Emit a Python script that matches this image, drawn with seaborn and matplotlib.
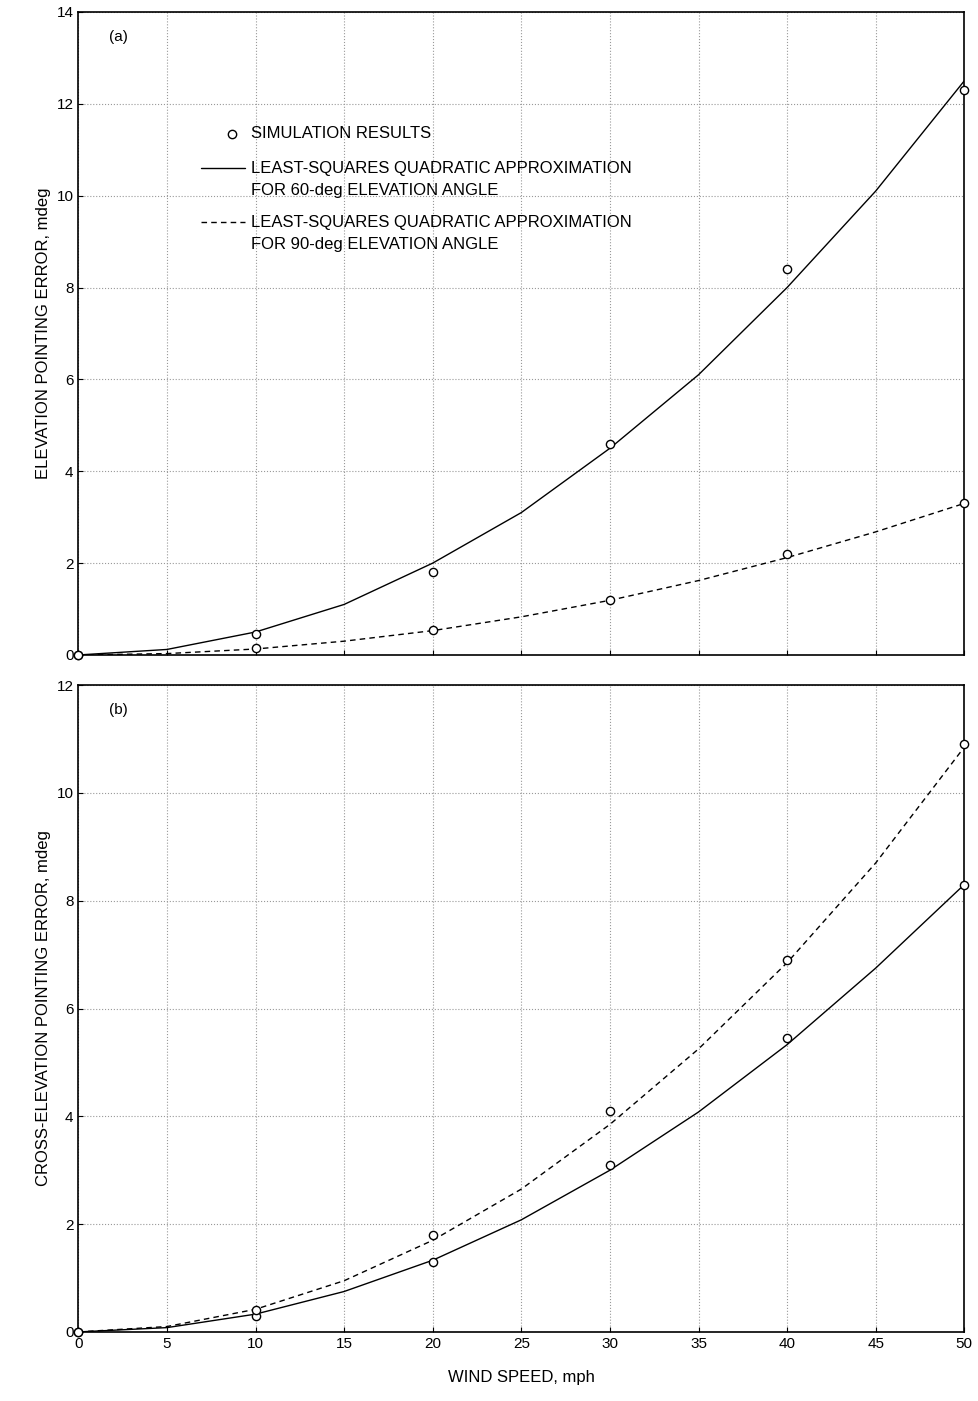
import matplotlib.pyplot as plt
import seaborn as sns

# simulation points
pts_x = [0, 10, 20, 30, 40, 50]
a_sim60 = [0, 0.45, 1.8, 4.6, 8.4, 12.3]
a_sim90 = [0, 0.15, 0.55, 1.2, 2.2, 3.3]
b_sim60 = [0, 0.3, 1.3, 3.1, 5.45, 8.3]
b_sim90 = [0, 0.4, 1.8, 4.1, 6.9, 10.9]

# fitted curves
fit_x = [0, 5, 10, 15, 20, 25, 30, 35, 40, 45, 50]
a_fit60 = [0, 0.12, 0.5, 1.1, 2.0, 3.1, 4.5, 6.1, 8.0, 10.1, 12.5]
a_fit90 = [0, 0.03, 0.13, 0.3, 0.53, 0.83, 1.19, 1.62, 2.12, 2.68, 3.3]
b_fit60 = [0, 0.08, 0.33, 0.75, 1.33, 2.08, 3.0, 4.08, 5.33, 6.75, 8.3]
b_fit90 = [0, 0.1, 0.42, 0.95, 1.7, 2.65, 3.85, 5.25, 6.85, 8.7, 10.85]

sns.set_style('ticks')
plt.rcParams['font.family'] = ['Liberation Sans', 'DejaVu Sans']
plt.rcParams['font.size'] = 11
plt.rcParams['text.color'] = 'black'
plt.rcParams['axes.labelcolor'] = 'black'
plt.rcParams['xtick.color'] = 'black'
plt.rcParams['ytick.color'] = 'black'

fig = plt.figure(figsize=(9.79, 14.01), dpi=100)
ax1 = fig.add_axes([0.08, 0.5325, 0.905, 0.459])
ax2 = fig.add_axes([0.08, 0.0493, 0.905, 0.4617])


def panel(ax, sim60, sim90, fit60, fit90, ymax, label, ylabel):
    sns.lineplot(x=fit_x, y=fit60, ax=ax, color='black', lw=1.0)
    sns.lineplot(x=fit_x, y=fit90, ax=ax, color='black', lw=1.0, linestyle=(0, (4, 3)))
    for ys in (sim60, sim90):
        sns.scatterplot(x=pts_x, y=ys, ax=ax, marker='o', s=35, facecolor='white',
                        edgecolor='black', linewidth=1.0, clip_on=False, zorder=5)
    ax.set_xlim(0, 50)
    ax.set_ylim(0, ymax)
    ax.set_xticks(range(0, 51, 5))
    ax.set_yticks(range(0, ymax + 1, 2))
    ax.grid(True, color='#999999', linestyle=':', linewidth=0.8)
    ax.tick_params(direction='in', labelsize=11)
    ax.set_ylabel(ylabel, fontsize=12)
    ax.text(0.035, 0.955, label, transform=ax.transAxes, fontsize=11)
    for s in ax.spines.values():
        s.set_linewidth(1.2)
        s.set_color('black')


panel(ax1, a_sim60, a_sim90, a_fit60, a_fit90, 14, '(a)', 'ELEVATION POINTING ERROR, mdeg')
panel(ax2, b_sim60, b_sim90, b_fit60, b_fit90, 12, '(b)', 'CROSS-ELEVATION POINTING ERROR, mdeg')
ax1.set_xticklabels([])
ax2.set_xlabel('WIND SPEED, mph', fontsize=12, labelpad=14)

# legend drawn by hand
y0 = 1 - 134 / 1401
fig.lines.append(plt.Line2D([0.237], [y0], marker='o', ms=6, mfc='white', mec='black',
                            lw=0, transform=fig.transFigure))
fig.text(0.256, y0, 'SIMULATION RESULTS', fontsize=12, va='center')
fig.lines.append(plt.Line2D([0.205, 0.25], [1 - 168 / 1401] * 2, color='black', lw=1.0,
                            transform=fig.transFigure))
fig.text(0.256, 1 - 168 / 1401, 'LEAST-SQUARES QUADRATIC APPROXIMATION', fontsize=12, va='center')
fig.text(0.256, 1 - 191 / 1401, 'FOR 60-deg ELEVATION ANGLE', fontsize=12, va='center')
fig.lines.append(plt.Line2D([0.205, 0.25], [1 - 222 / 1401] * 2, color='black', lw=1.0,
                            linestyle=(0, (4, 3)), transform=fig.transFigure))
fig.text(0.256, 1 - 222 / 1401, 'LEAST-SQUARES QUADRATIC APPROXIMATION', fontsize=12, va='center')
fig.text(0.256, 1 - 245 / 1401, 'FOR 90-deg ELEVATION ANGLE', fontsize=12, va='center')

fig.savefig('out.png', dpi=100)
